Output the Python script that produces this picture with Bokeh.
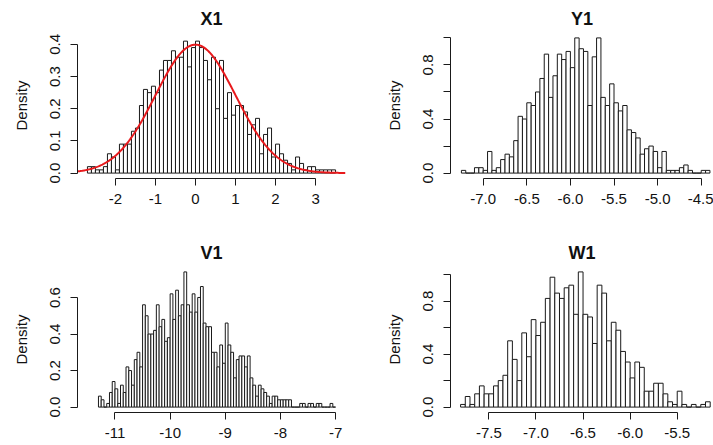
import numpy as np
from bokeh.plotting import figure
from bokeh.layouts import column, row
from bokeh.models import FixedTicker, Range1d
from bokeh.embed import file_html
from bokeh.resources import INLINE

# ---- histogram data (density per bin) ----
# X1: bins of width 0.1 starting at -2.7
x1_start, x1_width = -2.7, 0.1
x1_density = [0.02, 0.02, 0.01, 0.01, 0.02, 0.06, 0.05, 0.01, 0.09, 0.09,
              0.09, 0.13, 0.14, 0.21, 0.26, 0.25, 0.27, 0.25, 0.32, 0.35,
              0.35, 0.38, 0.36, 0.36, 0.41, 0.33, 0.39, 0.41, 0.39, 0.35,
              0.29, 0.36, 0.20, 0.35, 0.17, 0.25, 0.18, 0.21, 0.21, 0.19,
              0.12, 0.15, 0.17, 0.06, 0.12, 0.14, 0.05, 0.09, 0.06, 0.04,
              0.03, 0.01, 0.05, 0.03, 0.01, 0.02, 0.02, 0.01, 0.01, 0.01,
              0.01, 0.01]

# Y1: bins of width 0.05 starting at -7.25
y1_start, y1_width = -7.25, 0.05
y1_density = [0.02, 0.00, 0.00, 0.04, 0.04, 0.02, 0.16, 0.02, 0.04, 0.10,
              0.14, 0.12, 0.24, 0.42, 0.40, 0.52, 0.50, 0.60, 0.70, 0.88,
              0.56, 0.72, 0.88, 0.84, 0.90, 0.78, 1.00, 0.92, 0.90, 0.50,
              0.86, 1.00, 0.56, 0.50, 0.66, 0.52, 0.46, 0.50, 0.32, 0.30,
              0.26, 0.14, 0.18, 0.20, 0.16, 0.04, 0.16, 0.02, 0.02, 0.02,
              0.04, 0.06, 0.02, 0.00, 0.00, 0.02, 0.02]

# V1: bins of width 0.05 starting at -11.30
v1_start, v1_width = -11.30, 0.05
v1_density = [0.06, 0.04, 0.00, 0.02, 0.08, 0.14, 0.10, 0.02, 0.12, 0.08,
              0.22, 0.20, 0.12, 0.26, 0.30, 0.22, 0.56, 0.50, 0.40, 0.40,
              0.42, 0.56, 0.44, 0.48, 0.36, 0.38, 0.62, 0.48, 0.64, 0.50,
              0.56, 0.74, 0.56, 0.52, 0.62, 0.52, 0.60, 0.66, 0.46, 0.44,
              0.44, 0.30, 0.30, 0.22, 0.34, 0.24, 0.46, 0.34, 0.30, 0.16,
              0.26, 0.28, 0.28, 0.22, 0.28, 0.16, 0.12, 0.06, 0.12, 0.10,
              0.08, 0.06, 0.02, 0.06, 0.06, 0.04, 0.04, 0.04, 0.04, 0.04,
              0.00, 0.00, 0.00, 0.02, 0.02, 0.00, 0.02, 0.02, 0.00, 0.02,
              0.02, 0.00, 0.00, 0.00, 0.02, 0.00]

# W1: bins of width 0.05 starting at -7.80
w1_start, w1_width = -7.80, 0.05
w1_density = [0.02, 0.08, 0.02, 0.10, 0.16, 0.10, 0.10, 0.16, 0.20, 0.24,
              0.50, 0.36, 0.20, 0.56, 0.38, 0.66, 0.54, 0.64, 0.82, 0.98,
              0.86, 0.82, 0.90, 0.92, 0.70, 1.02, 0.70, 0.68, 0.48, 0.92,
              0.86, 0.50, 0.64, 0.58, 0.42, 0.34, 0.22, 0.34, 0.30, 0.12,
              0.12, 0.18, 0.18, 0.10, 0.04, 0.02, 0.12, 0.02, 0.00, 0.02,
              0.00, 0.02, 0.04]

# ---- axis ticks and labels ----
x1_ticks = [-2, -1, 0, 1, 2, 3]
x1_labels = ["-2", "-1", "0", "1", "2", "3"]
y1_xticks = [-7.0, -6.5, -6.0, -5.5, -5.0, -4.5]
y1_xlabels = ["-7.0", "-6.5", "-6.0", "-5.5", "-5.0", "-4.5"]
v1_ticks = [-11, -10, -9, -8, -7]
v1_labels = ["-11", "-10", "-9", "-8", "-7"]
w1_ticks = [-7.5, -7.0, -6.5, -6.0, -5.5]
w1_labels = ["-7.5", "-7.0", "-6.5", "-6.0", "-5.5"]

dens_ticks_04 = [0.0, 0.1, 0.2, 0.3, 0.4]
dens_labels_04 = ["0.0", "0.1", "0.2", "0.3", "0.4"]
dens_ticks_06 = [0.0, 0.2, 0.4, 0.6]
dens_labels_06 = ["0.0", "0.2", "0.4", "0.6"]
dens_ticks_10 = [0.0, 0.2, 0.4, 0.6, 0.8, 1.0]
dens_labels_10 = ["0.0", "", "0.4", "", "0.8", ""]

FONT = "Liberation Sans"
INK = "#1a1a1a"


def panel(title, start, width, dens, x_rng, y_rng, xt, xl, yt, yl,
          w, h, left, right, top, bottom):
    p = figure(width=w, height=h, title=title,
               x_range=Range1d(*x_rng), y_range=Range1d(*y_rng),
               output_backend="svg", toolbar_location=None,
               min_border_left=left, min_border_right=right,
               min_border_top=top, min_border_bottom=bottom)
    p.outline_line_color = None
    p.grid.visible = False
    p.background_fill_color = "white"
    p.border_fill_color = "white"

    n = len(dens)
    lefts = start + width * np.arange(n)
    p.quad(left=lefts, right=lefts + width, bottom=0, top=dens,
           fill_color="white", line_color=INK, line_width=1)

    p.title.text_font = FONT
    p.title.text_font_size = "18px"
    p.title.text_font_style = "bold"
    p.title.text_color = "#111111"
    p.title.align = "center"
    p.title.standoff = 7

    for ax in (p.xaxis[0], p.yaxis[0]):
        ax.axis_line_color = INK
        ax.major_tick_line_color = INK
        ax.major_tick_out = 7
        ax.major_tick_in = 0
        ax.minor_tick_line_color = None
        ax.major_label_text_font = FONT
        ax.major_label_text_font_size = "15px"
        ax.major_label_text_color = "#111111"

    xa = p.xaxis[0]
    xa.ticker = FixedTicker(ticks=xt)
    xa.major_label_overrides = dict(zip(xt, xl))
    xa.bounds = (xt[0], xt[-1])
    xa.major_label_standoff = 8

    ya = p.yaxis[0]
    ya.ticker = FixedTicker(ticks=yt)
    ya.major_label_overrides = dict(zip(yt, yl))
    ya.bounds = (yt[0], yt[-1])
    ya.major_label_orientation = "vertical"
    ya.major_label_standoff = 10
    ya.axis_label = "Density"
    ya.axis_label_text_font = FONT
    ya.axis_label_text_font_size = "15px"
    ya.axis_label_text_font_style = "normal"
    ya.axis_label_text_color = "#111111"
    ya.axis_label_standoff = 18
    return p


p1 = panel("X1", x1_start, x1_width, x1_density, (-2.948, 3.748), (-0.0168, 0.4368),
           x1_ticks, x1_labels, dens_ticks_04, dens_labels_04,
           356, 222, 77, 11, 32, 44)
# standard normal density over the plotted range
xs = np.linspace(-2.948, 3.748, 400)
p1.line(xs, np.exp(-xs ** 2 / 2) / np.sqrt(2 * np.pi), line_color="#e8191c", line_width=2)

p2 = panel("Y1", y1_start, y1_width, y1_density, (-7.375, -4.359), (-0.04, 1.04),
           y1_xticks, y1_xlabels, dens_ticks_10, dens_labels_10,
           357, 222, 94, 0, 32, 44)

p3 = panel("V1", v1_start, v1_width, v1_density, (-11.68, -6.82), (-0.0296, 0.7696),
           v1_ticks, v1_labels, dens_ticks_06, dens_labels_06,
           356, 223, 77, 11, 44, 33)

p4 = panel("W1", w1_start, w1_width, w1_density, (-7.907, -5.115), (-0.0408, 1.0608),
           w1_ticks, w1_labels, dens_ticks_10, dens_labels_10,
           357, 223, 94, 0, 44, 33)

layout = column(row(p1, p2), row(p3, p4))
open("out.html", "w").write(file_html(layout, INLINE))
